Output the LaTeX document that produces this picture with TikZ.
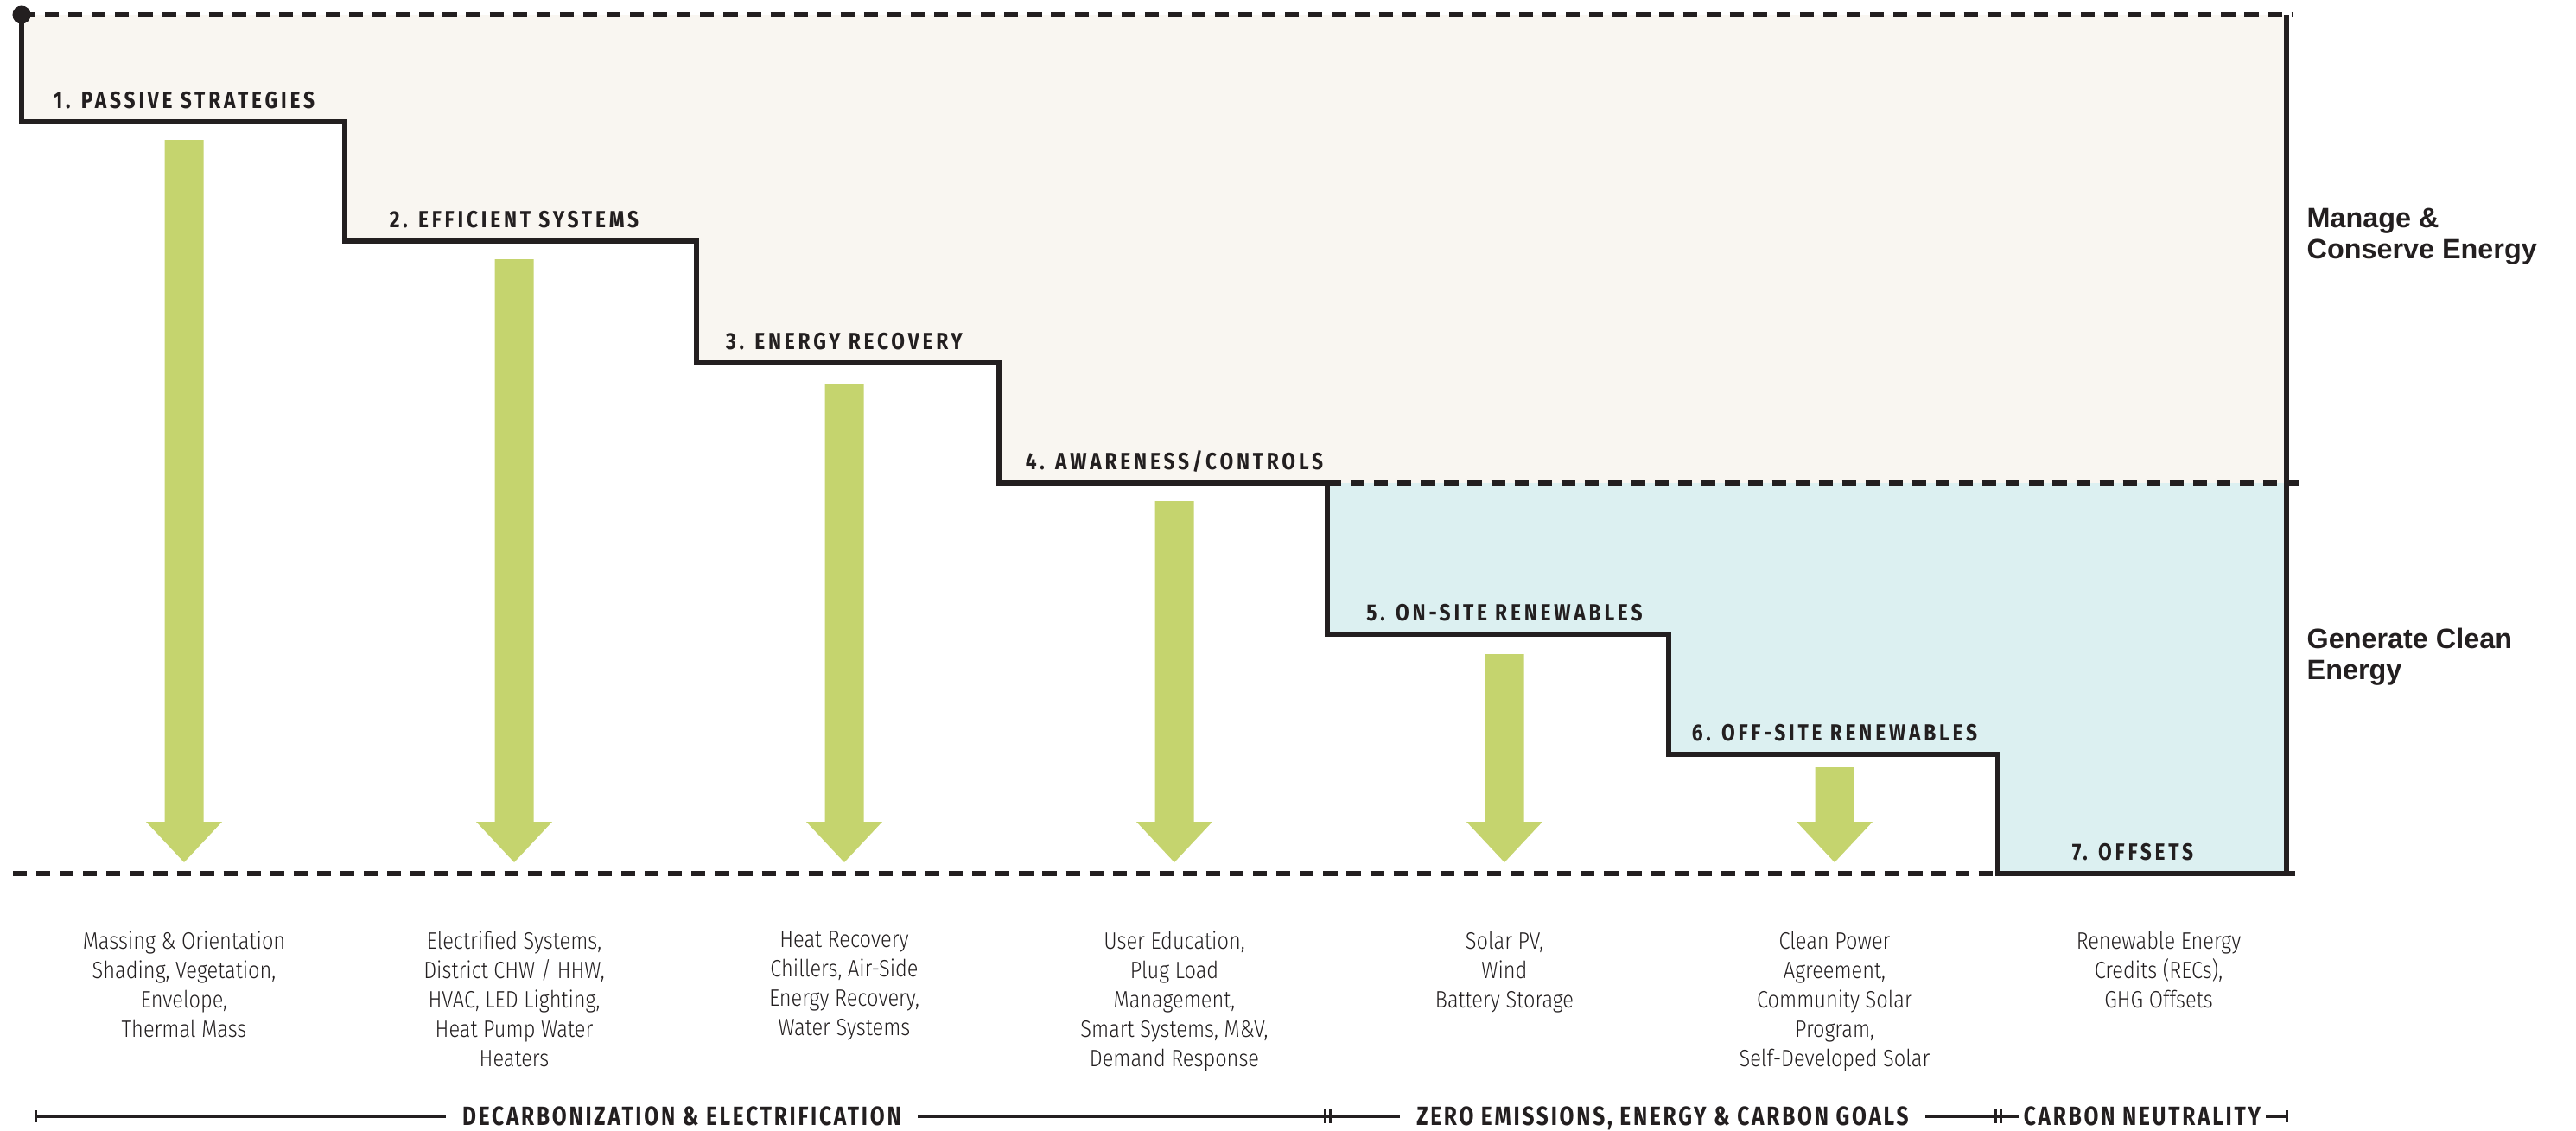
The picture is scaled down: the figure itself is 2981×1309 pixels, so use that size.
\documentclass[tikz,border=0pt]{standalone}
\usepackage{fontspec}
\usetikzlibrary{positioning}
\setmainfont{Fira Sans Light}[FakeStretch=0.86]
\newfontfamily\stepfont{Fira Sans}[FakeStretch=0.84,LetterSpace=14]
\newfontfamily\goalfont{Fira Sans}[FakeStretch=0.8,LetterSpace=9]
\newfontfamily\sidefont{Liberation Sans}
\definecolor{ink}{HTML}{231F20}
\definecolor{sand}{HTML}{F9F6F1}
\definecolor{aqua}{HTML}{DCF0F1}
\definecolor{leaf}{HTML}{C5D46E}

\begin{document}
\begin{tikzpicture}[
x=0.01cm, y=-0.01cm,
stair/.style={ink, line width=1.7pt, line join=miter},
guide/.style={ink, line width=1.6pt, dash pattern=on 4.6pt off 3.1pt},
bar/.style={ink, line width=0.85pt},
steplabel/.style={font=\stepfont\bfseries\fontsize{7.7}{9}\selectfont,
	text=ink, inner sep=0pt, anchor=base},
desc/.style={font=\fontsize{7.8}{9.7}\selectfont,
	text=ink, align=center, inner sep=0pt, anchor=north},
side/.style={font=\sidefont\bfseries\fontsize{9.2}{10.3}\selectfont,
	text=ink, align=left, inner sep=0pt, anchor=north west},
goal/.style={font=\goalfont\bfseries\fontsize{8.7}{10}\selectfont,
	text=ink, inner ysep=0pt, inner xsep=5.4pt, text height=6pt, text depth=0pt}
]
\useasboundingbox (0,0) rectangle (2981,1309);

% two zones
\fill[sand] (25,17) -- (2646,17) -- (2646,559) -- (1156,559) -- (1156,420)
	-- (806,420) -- (806,279) -- (399,279) -- (399,141) -- (25,141) -- cycle;
\fill[aqua] (1536,559) -- (2646,559) -- (2646,1011) -- (2312,1011) -- (2312,873)
	-- (1931,873) -- (1931,734) -- (1536,734) -- cycle;

\draw[guide] (25,17) -- (2652,17);
\draw[guide] (1536,559) -- (2660,559);
\draw[guide] (15,1011) -- (2312,1011);

\draw[stair] (25,17) -- (25,141) -- (399,141) -- (399,279) -- (806,279) -- (806,420)
	-- (1156,420) -- (1156,559) -- (1536,559) -- (1536,734) -- (1931,734) -- (1931,873)
	-- (2312,873) -- (2312,1011) -- (2656,1011);
\draw[stair] (2646,17) -- (2646,1011);
\fill[ink] (25,17) circle (3pt);

% arrows
\foreach \x/\ytop in {213/162, 595/300, 977/445, 1359/580, 1741/757, 2123/888}
{
	\fill[leaf] (\x-22.5,\ytop) -- (\x+22.5,\ytop) -- (\x+22.5,951) -- (\x+44,951)
		-- (\x,998) -- (\x-44,951) -- (\x-22.5,951) -- cycle;
}

% step names
\foreach \i/\x/\y/\txt in {1/213/141/{1. PASSIVE STRATEGIES}, 2/595/279/{2. EFFICIENT SYSTEMS},
	3/977/420/{3. ENERGY RECOVERY}, 4/1359/559/{4. AWARENESS/CONTROLS},
	5/1741/734/{5. ON-SITE RENEWABLES}, 6/2123/873/{6. OFF-SITE RENEWABLES}, 7/2468/1011/{7. OFFSETS}}
	\node[steplabel] (step\i) at (\x,\y-16) {\txt};

% measures
\node[desc] (desc1) at (213,1077) {Massing \& Orientation\\Shading, Vegetation,\\Envelope,\\Thermal Mass};
\node[desc] (desc2) at (595,1077) {Electrified Systems,\\District CHW / HHW,\\HVAC, LED Lighting,\\Heat Pump Water\\Heaters};
\node[desc] (desc3) at (977,1077) {Heat Recovery\\Chillers, Air-Side\\Energy Recovery,\\Water Systems};
\node[desc] (desc4) at (1359,1077) {User Education,\\Plug Load\\Management,\\Smart Systems, M\&V,\\Demand Response};
\node[desc] (desc5) at (1741,1077) {Solar PV,\\Wind\\Battery Storage};
\node[desc] (desc6) at (2123,1077) {Clean Power\\Agreement,\\Community Solar\\Program,\\Self-Developed Solar};
\node[desc] (desc7) at (2498,1077) {Renewable Energy\\Credits (RECs),\\GHG Offsets};

\node[side] (manage) at (2669,240) {Manage \&\\Conserve Energy};
\node[side] (generate) at (2669,726) {Generate Clean\\Energy};

% timeline
\coordinate (b0) at (42,1292);
\coordinate (b1) at (1536,1292);
\coordinate (b2) at (2312,1292);
\coordinate (b3) at (2646,1292);
\node[goal] (goal1) at (789,1292) {DECARBONIZATION \& ELECTRIFICATION};
\node[goal] (goal2) at (1924,1292) {ZERO EMISSIONS, ENERGY \& CARBON GOALS};
\node[goal, inner xsep=1.5pt] (goal3) at (2479,1292) {CARBON NEUTRALITY};
\draw[bar] (b0) -- (goal1) -- (b1) -- (goal2) -- (b2) -- (goal3) -- (b3);
\draw[bar] (42,1285) -- (42,1299);
\draw[bar] (2646,1285) -- (2646,1299);
\foreach \x in {1536,2312}
{
	\draw[bar] (\x-3,1284) -- (\x-3,1300);
	\draw[bar] (\x+3,1284) -- (\x+3,1300);
}
\end{tikzpicture}
\end{document}
